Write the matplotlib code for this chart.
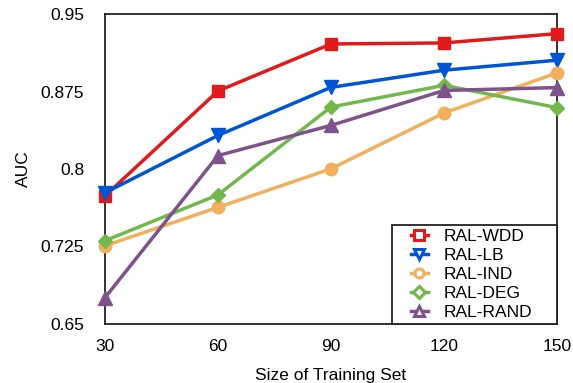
import matplotlib
matplotlib.use("Agg")
import matplotlib.pyplot as plt
from matplotlib.patches import Rectangle

plt.rcParams['font.family'] = ['Liberation Sans', 'DejaVu Sans']

x = [30, 60, 90, 120, 150]
wdd = [0.774, 0.8755, 0.921, 0.922, 0.931]
lb = [0.777, 0.8325, 0.879, 0.8956, 0.9053]
ind = [0.7257, 0.7629, 0.8002, 0.8542, 0.893]
deg = [0.7306, 0.775, 0.860, 0.881, 0.8594]
rand = [0.6755, 0.813, 0.8422, 0.876, 0.8788]

labels = ["RAL-WDD", "RAL-LB", "RAL-IND", "RAL-DEG", "RAL-RAND"]
series = [wdd, lb, ind, deg, rand]
colors = ["#E31A1C", "#0055D4", "#F0B05E", "#73B84C", "#7E528C"]
markers = ["s", "v", "o", "D", "^"]
msizes = [9, 10, 9, 7.5, 10]

yticks = [0.65, 0.725, 0.8, 0.875, 0.95]
ytick_labels = ["0.65", "0.725", "0.8", "0.875", "0.95"]

fs = 12.5
L, R, T, B = 105, 557, 14, 324

fig = plt.figure(figsize=(5.73, 3.83), dpi=100)
ax = fig.add_axes([L/573, 1-B/383, (R-L)/573, (B-T)/383])

handles = []
for s, lab, c, m, ms in zip(series, labels, colors, markers, msizes):
    ax.plot(x, s, color=c, lw=2.5, marker=m, markersize=ms, clip_on=False, zorder=3)
    h, = ax.plot([], [], color=c, lw=2.5, marker=m, markersize=6.5,
                 markerfacecolor='white', markeredgecolor=c, markeredgewidth=2.2)
    handles.append(h)

ax.set_xlim(30, 150)
ax.set_ylim(0.65, 0.95)
ax.set_xticks(x)
ax.set_xticklabels([str(v) for v in x])
ax.set_yticks(yticks)
ax.set_yticklabels(ytick_labels)
ax.tick_params(length=0, labelsize=fs)
ax.tick_params(axis='y', pad=15)
ax.tick_params(axis='x', pad=11)
for sp in ax.spines.values():
    sp.set_linewidth(1.3)
    sp.set_color('#222222')

ax.set_xlabel("Size of Training Set", fontsize=fs, labelpad=10)
ax.set_ylabel("AUC", fontsize=fs, labelpad=7)

# legend frame
fx0 = (392 - L) / (R - L)
fy1 = (B - 225) / (B - T)
frame = Rectangle((fx0, 0), 1 - fx0, fy1, transform=ax.transAxes, facecolor='white',
                  edgecolor='#222222', linewidth=1.3, zorder=4, clip_on=False)
ax.add_patch(frame)

leg = ax.legend(handles, labels, loc='lower left',
                bbox_to_anchor=((410.5 - L) / (R - L), 0.012),
                borderaxespad=0, fontsize=fs,
                handlelength=1.0, handletextpad=0.9, labelspacing=0.23,
                frameon=False, borderpad=0)
leg.set_zorder(5)

fig.savefig("out.png", dpi=100)
